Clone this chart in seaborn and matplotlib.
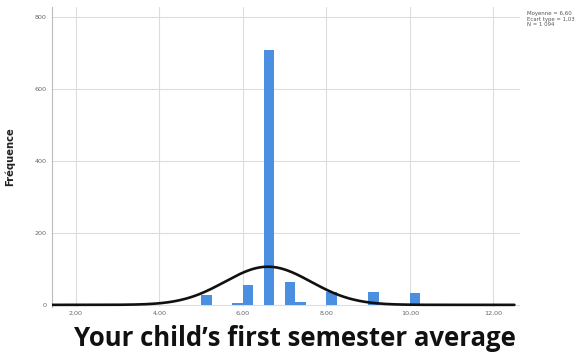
import numpy as np
import pandas as pd
import matplotlib
matplotlib.use("Agg")
import matplotlib.pyplot as plt
import seaborn as sns

# Histogram of first-semester averages (bin width 0.25)
bin_left = [5.00, 5.75, 6.00, 6.50, 7.00, 7.25, 8.00, 9.00, 10.00]
counts = [28, 5, 55, 707, 64, 8, 37, 35, 33]
bin_width = 0.25

# Summary statistics shown in the corner
mean_val = 6.60
sd_val = 1.03
n_val = 1094

x_ticks = [2, 4, 6, 8, 10, 12]
x_tick_labels = ["2,00", "4,00", "6,00", "8,00", "10,00", "12,00"]
y_ticks = [0, 200, 400, 600, 800]

sns.set_theme(style="white")
plt.rcParams["font.family"] = ["DejaVu Sans"]

fig = plt.figure(figsize=(5.88, 3.56), dpi=100)
ax = fig.add_axes([0.0884, 0.1376, 0.7956, 0.8424])

df = pd.DataFrame({"value": [b + bin_width / 2 for b in bin_left], "count": counts})
sns.histplot(data=df, x="value", weights="count", binwidth=bin_width,
             binrange=(1.5, 12.75), ax=ax,
             color="#4a8fe0", alpha=1.0, edgecolor="none", linewidth=0, zorder=3)

# Normal curve scaled to the histogram counts
xs = np.linspace(1.43, 12.5, 400)
ys = n_val * bin_width / (sd_val * np.sqrt(2 * np.pi)) * np.exp(-0.5 * ((xs - mean_val) / sd_val) ** 2)
sns.lineplot(x=xs, y=ys, ax=ax, color="#111111", linewidth=1.9, zorder=4)

ax.set_xlim(1.43, 12.63)
ax.set_ylim(-6, 827)
ax.set_xticks(x_ticks)
ax.set_xticklabels(x_tick_labels)
ax.set_yticks(y_ticks)
ax.tick_params(axis="both", labelsize=4.6, colors="#666666", length=0, pad=3)
ax.tick_params(axis="y", length=2, width=0.6, color="#bbbbbb", pad=2)
ax.grid(True, color="#dddddd", linewidth=0.8, zorder=0)
ax.set_axisbelow(True)
for side in ["top", "right", "bottom"]:
    ax.spines[side].set_visible(False)
ax.spines["left"].set_color("#bbbbbb")
ax.spines["left"].set_linewidth(0.8)
ax.set_xlabel("")
ax.set_ylabel("Fréquence", fontsize=7.2, fontweight="bold", color="#222222", labelpad=14)

fig.text(0.896, 0.968,
         "Moyenne = 6,60\nEcart type = 1,03\nN = 1 094",
         fontsize=3.9, color="#555555", va="top", ha="left", linespacing=1.1)

fig.text(0.502, 0.05, "Your child\u2019s first semester average",
         fontsize=18.5, fontweight="bold", color="#111111",
         family=["Open Sans", "DejaVu Sans"], ha="center", va="center")

fig.savefig("out.png", dpi=100)
